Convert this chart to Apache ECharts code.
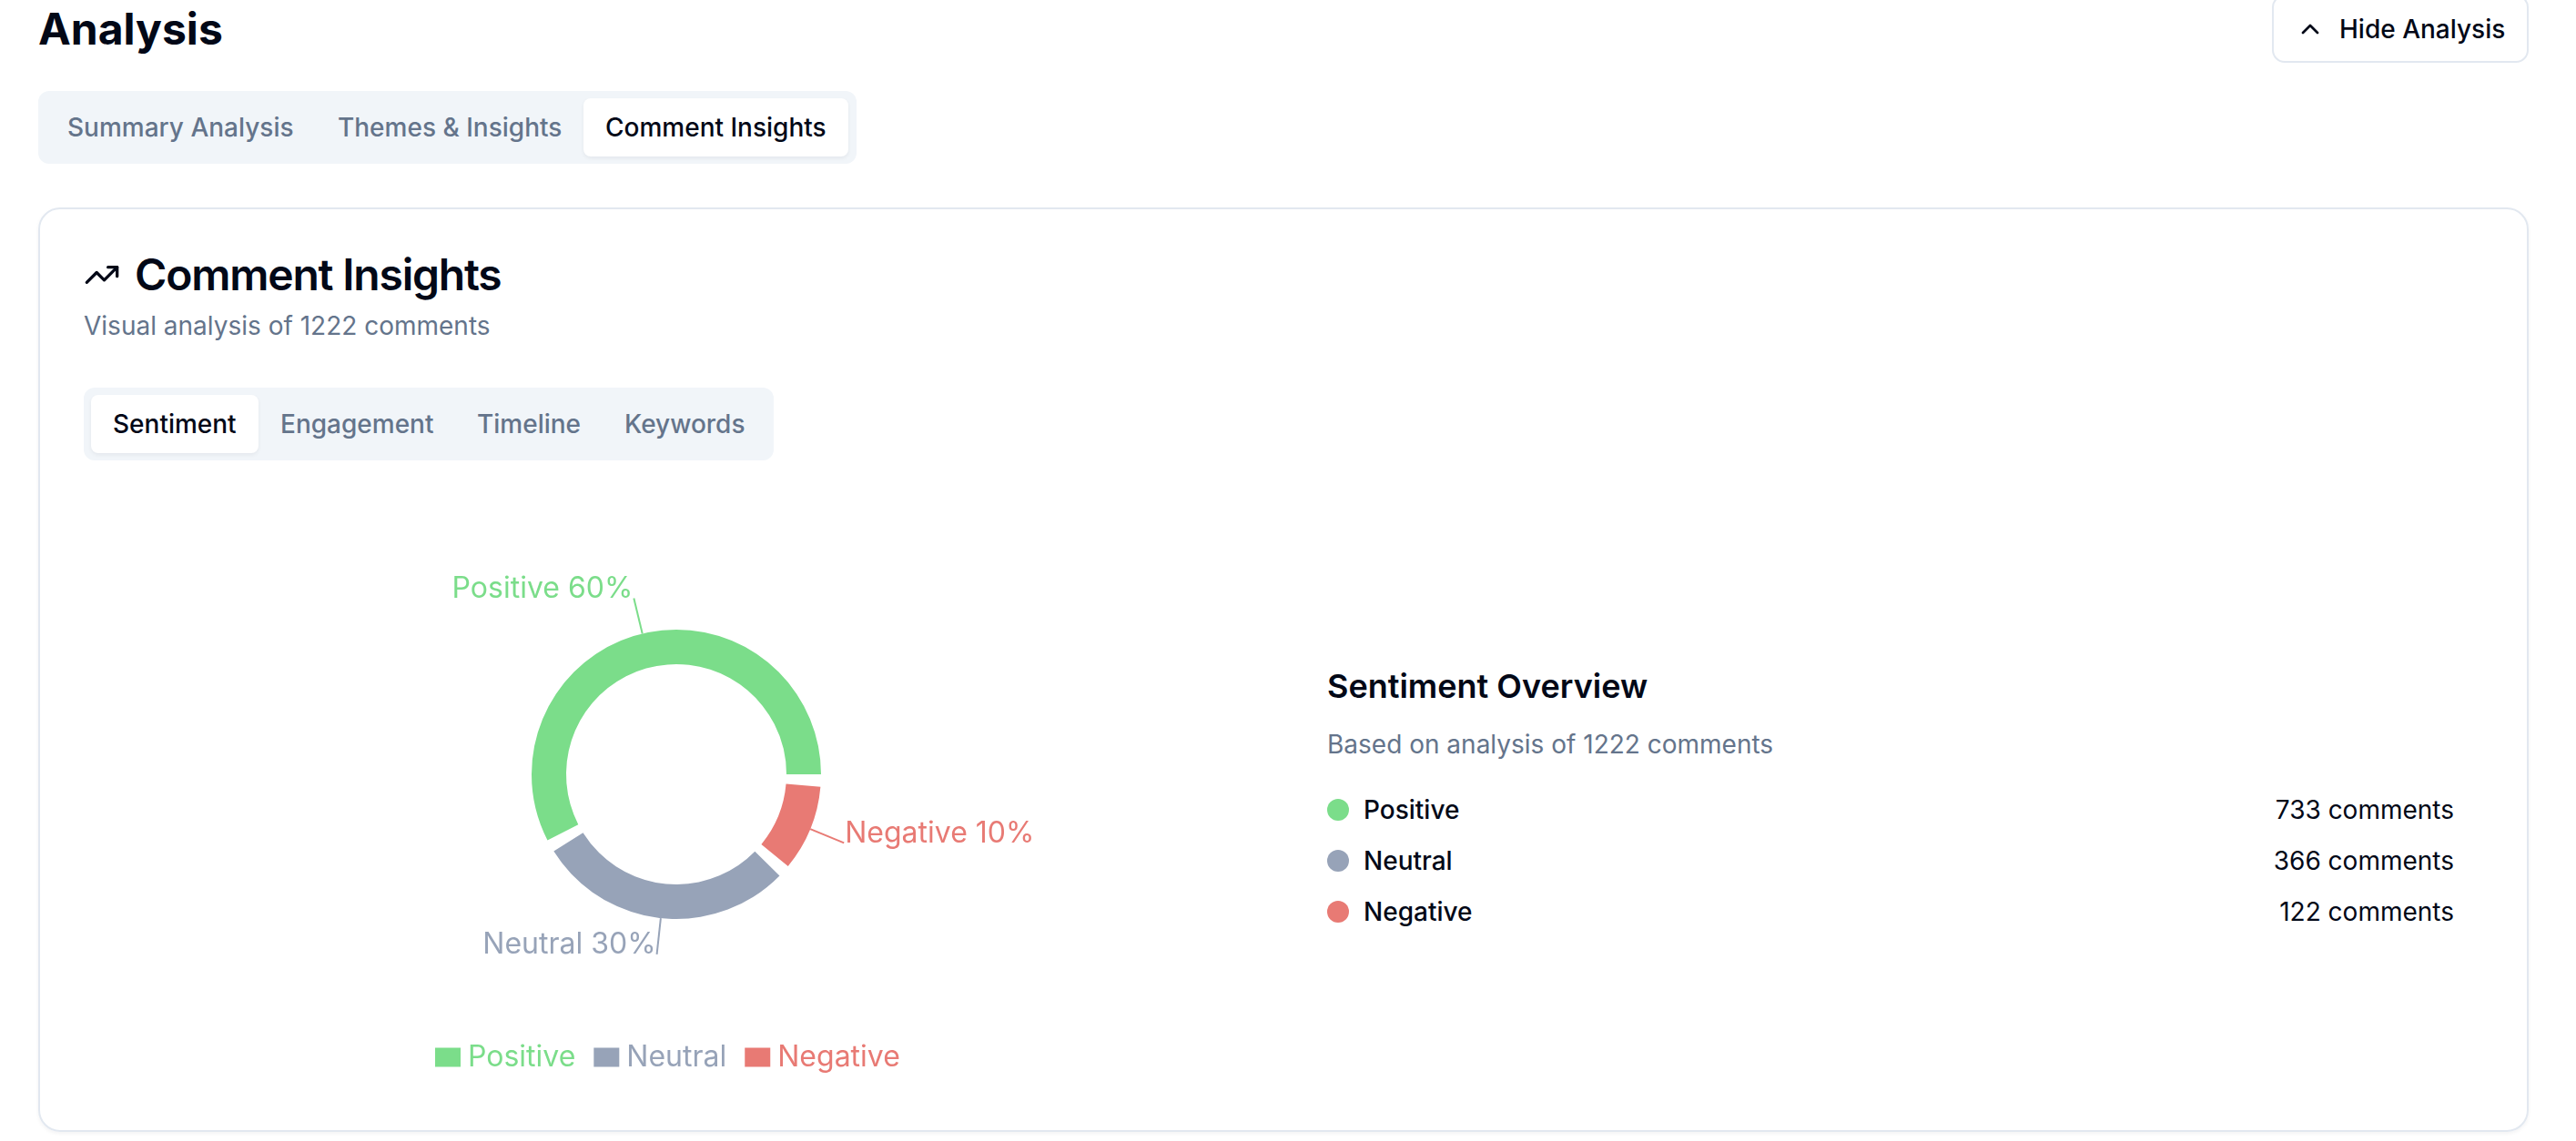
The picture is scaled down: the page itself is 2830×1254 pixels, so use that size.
<!DOCTYPE html>
<html>
<head>
<meta charset="utf-8">
<title>Comment Insights</title>
<script src="https://cdn.jsdelivr.net/npm/echarts@6/dist/echarts.min.js"></script>
<style>
html, body { margin: 0; padding: 0; background: #fff; width: 2830px; height: 1254px; overflow: hidden; }
body { position: relative; font-family: Inter, "Noto Sans", sans-serif; color: #020817; }
.abs { position: absolute; white-space: nowrap; }
.t28 { font-size: 28px; line-height: 40px; font-weight: 500; }
.muted { color: #64748b; }
.sub { font-size: 28px; line-height: 40px; font-weight: 400; color: #64748b; }
.bar { position: absolute; background: #f1f5f9; border-radius: 12px; }
.active { position: absolute; background: #fff; border-radius: 8px; box-shadow: 0 2px 4px rgba(15,23,42,.06); }
#card { position: absolute; left: 42px; top: 228px; width: 2732px; height: 1012px; border: 2px solid #e2e8f0; border-radius: 24px; box-shadow: 0 2px 4px rgba(15,23,42,.05); }
#hide { position: absolute; left: 2496px; top: -6px; width: 278px; height: 71px; border: 2px solid #e2e8f0; border-radius: 14px; }
#chart { position: absolute; left: 92px; top: 540px; width: 1300px; height: 690px; }
.dot { position: absolute; width: 24px; height: 24px; border-radius: 50%; }
</style>
</head>
<body>
<div class="abs" style="left:42px;top:1px;font-size:48px;line-height:62px;font-weight:700">Analysis</div>

<div id="hide"></div>
<svg class="abs" style="left:2522px;top:16px" width="32" height="32" viewBox="0 0 24 24" fill="none" stroke="#020817" stroke-width="2" stroke-linecap="round" stroke-linejoin="round"><polyline points="18 15 12 9 6 15"></polyline></svg>
<div class="abs t28" style="left:2570px;top:12px">Hide Analysis</div>

<div class="bar" style="left:42px;top:100px;width:899px;height:80px"></div>
<div class="active" style="left:641px;top:108px;width:291px;height:64px"></div>
<div class="abs t28 muted" style="left:74px;top:120px">Summary Analysis</div>
<div class="abs t28 muted" style="left:371px;top:120px">Themes &amp; Insights</div>
<div class="abs t28" style="left:665px;top:120px">Comment Insights</div>

<div id="card"></div>
<svg class="abs" style="left:92px;top:282px" width="40" height="40" viewBox="0 0 24 24" fill="none" stroke="#020817" stroke-width="2" stroke-linecap="round" stroke-linejoin="round"><polyline points="22 7 13.5 15.5 8.5 10.5 2 17"></polyline><polyline points="16 7 22 7 22 13"></polyline></svg>
<div class="abs" style="left:148px;top:271px;font-size:48px;line-height:62px;font-weight:600;letter-spacing:-1.2px">Comment Insights</div>
<div class="abs sub" style="left:92px;top:338px">Visual analysis of 1222 comments</div>

<div class="bar" style="left:92px;top:426px;width:758px;height:80px"></div>
<div class="active" style="left:100px;top:434px;width:184px;height:64px"></div>
<div class="abs t28" style="left:124px;top:446px">Sentiment</div>
<div class="abs t28 muted" style="left:308px;top:446px">Engagement</div>
<div class="abs t28 muted" style="left:524px;top:446px">Timeline</div>
<div class="abs t28 muted" style="left:686px;top:446px">Keywords</div>

<div id="chart"></div>

<div class="abs" style="left:1458px;top:731px;font-size:36px;line-height:46px;font-weight:600">Sentiment Overview</div>
<div class="abs sub" style="left:1458px;top:798px">Based on analysis of 1222 comments</div>
<div id="rows"></div>

<script>
// values
var sentimentNames = ['Positive', 'Neutral', 'Negative'];
var sentimentComments = [733, 366, 122];
var sentimentPercent = [60, 30, 10];
var sentimentColors = ['#7bdd8a', '#97a3b8', '#e87a74'];

// gap between the slices, in degrees
var padDegrees = 5;

var total = 0;
sentimentComments.forEach(function (v) { total += v; });
var spacer = total * padDegrees / (360 - sentimentNames.length * padDegrees);

var pieData = [];
sentimentNames.forEach(function (name, i) {
    pieData.push({
        name: name,
        value: sentimentComments[i],
        itemStyle: { color: sentimentColors[i] },
        label: { color: sentimentColors[i] },
        labelLine: { lineStyle: { color: sentimentColors[i], width: 2 } }
    });
    // transparent slice, keeps the gap out of the real values
    pieData.push({
        name: 'gap' + i,
        value: spacer,
        itemStyle: { color: 'transparent' },
        label: { show: false },
        labelLine: { show: false },
        emphasis: { disabled: true }
    });
});

var chart = echarts.init(document.getElementById('chart'));
chart.setOption({
    animation: false,
    legend: {
        left: 381,
        top: 601,
        icon: 'rect',
        itemWidth: 28,
        itemHeight: 21,
        itemGap: 20,
        selectedMode: false,
        textStyle: { fontFamily: 'Inter', fontSize: 32, padding: [0, 0, 0, 3] },
        data: sentimentNames.map(function (name, i) {
            return { name: name, textStyle: { color: sentimentColors[i] } };
        })
    },
    series: [{
        type: 'pie',
        center: [651, 311],
        radius: [121, 159],
        startAngle: 0,
        clockwise: false,
        avoidLabelOverlap: false,
        silent: true,
        label: {
            show: true,
            position: 'outside',
            fontFamily: 'Inter',
            fontSize: 32,
            lineHeight: 20,
            distanceToLabelLine: 1,
            // empty second line lifts the text onto the end of the line
            formatter: function (p) {
                return p.name + ' ' + sentimentPercent[sentimentNames.indexOf(p.name)] + '%\n ';
            }
        },
        labelLine: { show: true, length: 40, length2: 0, smooth: false },
        data: pieData
    }]
});

// overview list on the right
var rows = document.getElementById('rows');
sentimentNames.forEach(function (name, i) {
    var y = 890 + i * 56;
    rows.innerHTML += '<div class="dot" style="left:1458px;top:' + (y - 12) + 'px;background:' + sentimentColors[i] + '"></div>' +
        '<div class="abs t28" style="left:1498px;top:' + (y - 20) + 'px">' + name + '</div>' +
        '<div class="abs t28" style="font-weight:400;right:134px;top:' + (y - 20) + 'px">' + sentimentComments[i] + ' comments</div>';
});
</script>
</body>
</html>
